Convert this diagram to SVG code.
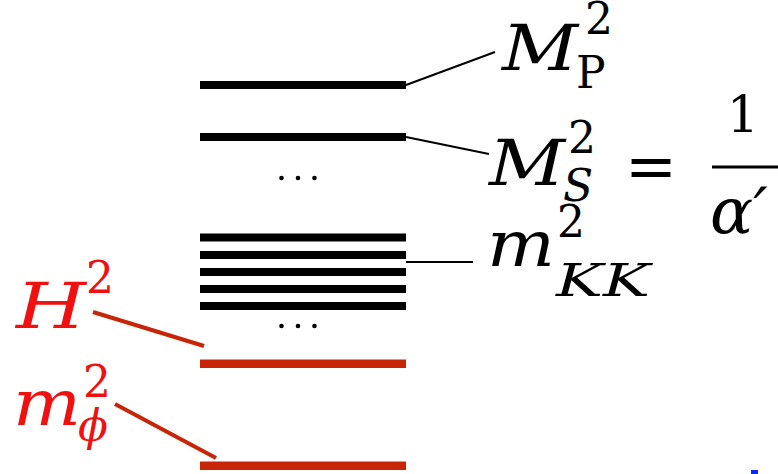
<svg xmlns="http://www.w3.org/2000/svg" width="778" height="474" viewBox="0 0 778 474">
<style>
.bar{fill:#000}
.rbar{fill:#c82508}
.ln{stroke:#000;stroke-width:2;fill:none}
.rln{stroke:#c82508;stroke-width:4;fill:none}
.r{fill:#f01010}
.sm{font-size:44px}
.up{font-style:normal}
.dot{fill:#000}
</style>
<g id="connectors">
<line class="ln" x1="406" y1="85" x2="495" y2="52"/>
<line class="ln" x1="406" y1="137" x2="489" y2="154"/>
<line class="ln" x1="406" y1="262" x2="473" y2="262"/>
<line class="rln" x1="93" y1="312" x2="204" y2="346"/>
<line class="rln" x1="115" y1="404" x2="216" y2="458"/>
</g>
<g id="level-MP"><rect class="bar" x="200" y="81" width="206" height="8"/></g>
<g id="level-MS"><rect class="bar" x="200" y="133" width="206" height="8"/></g>
<g id="dots1"><circle class="dot" cx="281.5" cy="178" r="2.3"/><circle class="dot" cx="298" cy="178" r="2.3"/><circle class="dot" cx="314.5" cy="178" r="2.3"/></g>
<g id="level-KK">
<rect class="bar" x="200" y="233.5" width="206" height="8"/>
<rect class="bar" x="200" y="251" width="206" height="8"/>
<rect class="bar" x="200" y="268" width="206" height="8"/>
<rect class="bar" x="200" y="285" width="206" height="8"/>
<rect class="bar" x="200" y="302" width="206" height="8"/>
</g>
<g id="dots2"><circle class="dot" cx="281.5" cy="326" r="2.3"/><circle class="dot" cx="298" cy="326" r="2.3"/><circle class="dot" cx="314.5" cy="326" r="2.3"/></g>
<g id="level-H"><rect class="rbar" x="200" y="359.5" width="206" height="8.5"/></g>
<g id="level-mphi"><rect class="rbar" x="200" y="461.5" width="206" height="8.5"/></g>
<g font-family="'DejaVu Serif', serif" font-size="64" font-style="italic" fill="#000">
<g id="label-MP">
<text x="502" y="70" textLength="76" lengthAdjust="spacingAndGlyphs">M</text>
<text class="sm up" x="585" y="34">2</text>
<text class="sm up" x="576" y="88">P</text>
</g>
<g id="label-MS">
<text x="489" y="185" textLength="76" lengthAdjust="spacingAndGlyphs">M</text>
<text class="sm up" x="568" y="153">2</text>
<text class="sm" x="563" y="201">S</text>
<text class="up" x="625" y="188" textLength="52" lengthAdjust="spacingAndGlyphs">=</text>
<text class="up" x="727" y="132" font-size="50">1</text>
<rect x="712" y="165.5" width="66" height="3" fill="#000"/>
<text x="710" y="233">α′</text>
</g>
<g id="label-KK">
<text x="487" y="266" textLength="68" lengthAdjust="spacingAndGlyphs">m</text>
<text class="sm up" x="557" y="237">2</text>
<text class="sm" x="556" y="296" textLength="94" lengthAdjust="spacingAndGlyphs">KK</text>
</g>
<g id="label-H" class="r">
<text x="16" y="328" textLength="70" lengthAdjust="spacingAndGlyphs">H</text>
<text class="sm up" x="86" y="293">2</text>
</g>
<g id="label-mphi" class="r">
<text x="13" y="425" textLength="68" lengthAdjust="spacingAndGlyphs">m</text>
<text class="sm up" x="83" y="397">2</text>
<text class="sm" x="78" y="441">ϕ</text>
</g>
</g>
<rect x="751" y="470" width="7" height="4" fill="#0a28ff"/>
</svg>
